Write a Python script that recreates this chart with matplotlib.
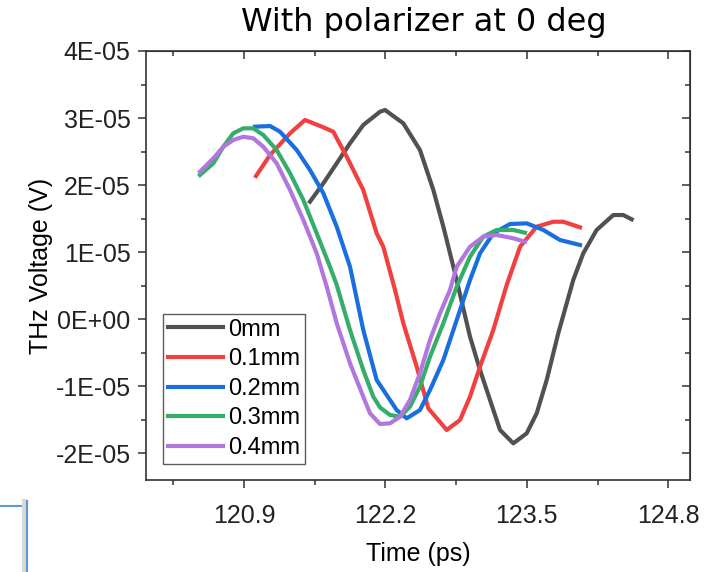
import matplotlib.pyplot as plt
import matplotlib.ticker as ticker
from matplotlib.lines import Line2D

# Time (ps) and THz voltage (units of 1E-05 V)
t_0mm = [121.507, 121.630, 121.753, 121.875, 121.997, 122.151, 122.197, 122.365,
         122.518, 122.641, 122.733, 122.840, 122.978, 123.070, 123.162, 123.254,
         123.376, 123.499, 123.591, 123.683, 123.790, 123.927, 124.019, 124.142,
         124.295, 124.387, 124.464]
v_0mm = [1.752, 2.026, 2.325, 2.623, 2.896, 3.094, 3.120, 2.921,
         2.523, 1.926, 1.379, 0.684, -0.262, -0.759, -1.207, -1.654,
         -1.853, -1.704, -1.405, -0.908, -0.207, 0.584, 0.982, 1.330,
         1.553, 1.553, 1.489]

t_01mm = [121.011, 121.140, 121.324, 121.461, 121.630, 121.721, 121.845, 121.997,
          122.120, 122.181, 122.289, 122.365, 122.488, 122.595, 122.764, 122.886,
          122.978, 123.070, 123.192, 123.315, 123.438, 123.591, 123.744, 123.835,
          123.989]
v_01mm = [2.135, 2.448, 2.772, 2.971, 2.862, 2.796, 2.423, 1.926,
          1.280, 1.080, 0.434, -0.062, -0.710, -1.331, -1.654, -1.505,
          -1.157, -0.710, -0.162, 0.509, 1.080, 1.379, 1.453, 1.453,
          1.370]

t_02mm = [121.002, 121.140, 121.232, 121.385, 121.507, 121.630, 121.753, 121.875,
          121.997, 122.120, 122.243, 122.304, 122.396, 122.518, 122.610, 122.733,
          122.856, 122.978, 123.070, 123.192, 123.346, 123.499, 123.652, 123.805,
          123.989]
v_02mm = [2.871, 2.881, 2.796, 2.523, 2.225, 1.877, 1.379, 0.782,
          -0.162, -0.908, -1.207, -1.356, -1.480, -1.356, -1.058, -0.610,
          -0.013, 0.584, 0.982, 1.280, 1.419, 1.429, 1.330, 1.180,
          1.106]

t_03mm = [120.496, 120.619, 120.711, 120.802, 120.894, 120.986, 121.078, 121.201,
          121.324, 121.446, 121.569, 121.691, 121.753, 121.875, 121.997, 122.089,
          122.151, 122.243, 122.335, 122.426, 122.518, 122.610, 122.733, 122.856,
          122.978, 123.100, 123.223, 123.376, 123.483]
v_03mm = [2.150, 2.325, 2.572, 2.772, 2.847, 2.847, 2.747, 2.523,
          2.175, 1.777, 1.280, 0.782, 0.509, -0.162, -0.759, -1.157,
          -1.318, -1.430, -1.456, -1.307, -1.008, -0.561, -0.062, 0.484,
          0.931, 1.230, 1.330, 1.330, 1.289]

t_04mm = [120.496, 120.619, 120.711, 120.802, 120.894, 120.986, 121.078, 121.201,
          121.324, 121.446, 121.569, 121.661, 121.753, 121.875, 121.997, 122.059,
          122.151, 122.243, 122.335, 122.426, 122.518, 122.610, 122.702, 122.794,
          122.856, 122.978, 123.100, 123.223, 123.376, 123.483]
v_04mm = [2.199, 2.399, 2.572, 2.672, 2.721, 2.698, 2.572, 2.325,
          1.926, 1.479, 0.982, 0.484, -0.062, -0.659, -1.157, -1.405,
          -1.565, -1.554, -1.456, -1.207, -0.808, -0.311, 0.087, 0.435,
          0.782, 1.080, 1.230, 1.255, 1.206, 1.155]

labels = ["0mm", "0.1mm", "0.2mm", "0.3mm", "0.4mm"]
colors = ["#515151", "#F14040", "#1A6FDF", "#37AD6B", "#B177DE"]
x_ticks = [120.9, 122.2, 123.5, 124.8]
x_minor = [120.25, 121.55, 122.85, 124.15]
y_ticks = [-2e-5, -1e-5, 0, 1e-5, 2e-5, 3e-5, 4e-5]

plt.rcParams["font.family"] = ["Liberation Sans", "DejaVu Sans"]

fig = plt.figure(figsize=(7.22, 5.72), dpi=100)
ax = fig.add_axes([146 / 722, 1 - 480 / 572, 544 / 722, 429 / 572])

series = [(t_0mm, v_0mm), (t_01mm, v_01mm), (t_02mm, v_02mm),
          (t_03mm, v_03mm), (t_04mm, v_04mm)]
for (t, v), lab, col in zip(series, labels, colors):
    ax.plot(t, [x * 1e-5 for x in v], color=col, lw=3.0, label=lab)

ax.set_xlim(120.0, 125.0)
ax.set_ylim(-2.4e-5, 4e-5)
ax.set_xticks(x_ticks)
ax.xaxis.set_major_formatter(ticker.FormatStrFormatter("%.1f"))
ax.xaxis.set_minor_locator(ticker.FixedLocator(x_minor))
ax.set_yticks(y_ticks)
ax.yaxis.set_major_formatter(ticker.FuncFormatter(lambda v, p: f"{v:.0E}"))
ax.yaxis.set_minor_locator(ticker.MultipleLocator(0.5e-5))

frame = "#333333"
for s in ax.spines.values():
    s.set_color(frame)
    s.set_linewidth(1.2)
ax.tick_params(which="major", direction="out", length=6, width=1.1,
               color=frame, labelsize=18, labelcolor="#222222", pad=5)
ax.tick_params(which="minor", direction="out", length=3.5, width=1.1, color=frame)
ax.tick_params(axis="x", which="major", pad=11)

# inward ticks on the top and right edges
top = ax.secondary_xaxis("top")
top.set_xticks(x_ticks)
top.xaxis.set_minor_locator(ticker.FixedLocator(x_minor))
top.tick_params(which="both", direction="in", labeltop=False, color=frame, width=1.1)
top.tick_params(which="major", length=6)
top.tick_params(which="minor", length=3.5)
top.spines["top"].set_color(frame)
right = ax.secondary_yaxis("right")
right.set_yticks(y_ticks)
right.yaxis.set_minor_locator(ticker.MultipleLocator(0.5e-5))
right.tick_params(which="both", direction="in", labelright=False, color=frame, width=1.1)
right.tick_params(which="major", length=6)
right.tick_params(which="minor", length=3.5)
right.spines["right"].set_color(frame)

ax.set_xlabel("Time (ps)", fontsize=18, labelpad=10)
ax.set_ylabel("THz Voltage (V)", fontsize=18, labelpad=2)
fig.text(424 / 722, 1 - 22 / 572, "With polarizer at 0 deg", ha="center",
         va="center", fontsize=23, family="DejaVu Sans")

leg = ax.legend(loc="upper left", bbox_to_anchor=((163 - 146) / 544, (480 - 314) / 429),
                fontsize=17, frameon=True, fancybox=False, borderaxespad=0,
                borderpad=0.2, handlelength=2.35, handletextpad=0.2,
                labelspacing=0.32)
leg.get_frame().set_edgecolor(frame)
leg.get_frame().set_linewidth(1.0)

# window-edge fragment at the lower left of the screenshot
fig.add_artist(Line2D([0, 21 / 722], [1 - 506 / 572] * 2, color="#5b9bd5", lw=1.5))
fig.add_artist(Line2D([24 / 722] * 2, [0, 1 - 501 / 572], color="#d9d9d9", lw=3))
fig.add_artist(Line2D([27.5 / 722] * 2, [0, 1 - 501 / 572], color="#5b9bd5", lw=1.5))

fig.savefig("out.png", dpi=100)
